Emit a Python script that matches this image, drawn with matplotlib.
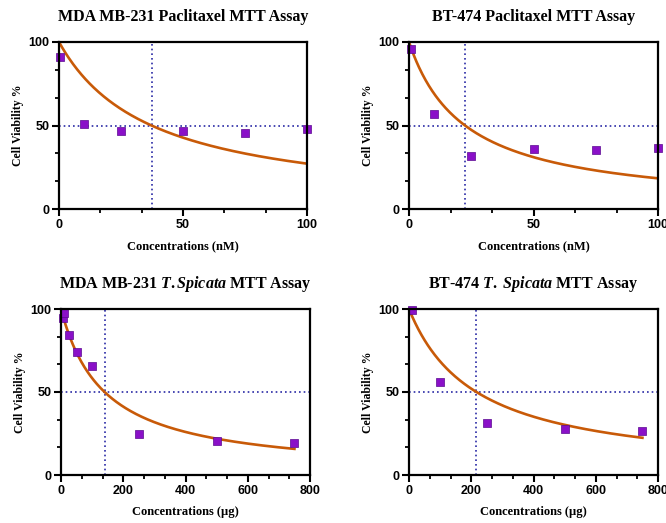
import numpy as np
import matplotlib
matplotlib.use("Agg")
import matplotlib.pyplot as plt
from matplotlib.ticker import MultipleLocator, AutoMinorLocator

plt.rcParams["mathtext.fontset"] = "custom"
plt.rcParams["mathtext.it"] = "Liberation Serif:italic:bold"
plt.rcParams["mathtext.rm"] = "Liberation Serif:bold"
plt.rcParams["mathtext.bf"] = "Liberation Serif:bold"

# ---- data ----
titles = [
    r"MDA MB-231 Paclitaxel MTT Assay",
    r"BT-474 Paclitaxel MTT Assay",
    r"MDA MB-231 $\mathit{T.Spicata}$ MTT Assay",
    r"BT-474 $\mathit{T.}$ $\mathit{Spicata}$ MTT Assay",
]
xlabels = ["Concentrations (nM)", "Concentrations (nM)",
           "Concentrations (µg)", "Concentrations (µg)"]

mda_pac_x = [0.5, 10, 25, 50, 75, 100]
mda_pac_y = [90.8, 50.9, 46.7, 46.5, 45.7, 47.7]
bt_pac_x = [1, 10, 25, 50, 75, 100]
bt_pac_y = [95.6, 56.9, 31.5, 35.9, 35.3, 36.5]
mda_ts_x = [5, 10, 25, 50, 100, 250, 500, 750]
mda_ts_y = [94.4, 97.8, 84.4, 73.9, 65.5, 24.4, 20.4, 19.0]
bt_ts_x = [10, 100, 250, 500, 750]
bt_ts_y = [99.6, 56.3, 31.1, 27.7, 26.5]

# fitted IC50 values (dotted crosshair positions)
ic50 = [37.3, 22.5, 140, 216.6]
xmax = [100, 100, 800, 800]
xmajor = [50, 50, 200, 200]

xs = [mda_pac_x, bt_pac_x, mda_ts_x, bt_ts_x]
ys = [mda_pac_y, bt_pac_y, mda_ts_y, bt_ts_y]

# axes positions in pixels (left, right, top, bottom)
W, H = 666, 523
boxes = [(59, 307, 42, 209), (409, 658, 42, 209),
         (61, 310, 309, 475), (409, 658, 309, 475)]

fig = plt.figure(figsize=(W / 100, H / 100), dpi=100)
fig.patch.set_facecolor("white")

serif = "Liberation Serif"
sans = "Liberation Sans"
curve_color = "#c85a08"
dot_color = "#2a2aa6"
mark_color = "#8a10c8"

for i in range(4):
    l, r, t, b = boxes[i]
    ax = fig.add_axes([l / W, 1 - b / H, (r - l) / W, (b - t) / H])
    ax.set_xlim(0, xmax[i])
    ax.set_ylim(0, 100)

    # fitted dose-response curve (hyperbolic fit with read IC50)
    xc = np.linspace(0, max(xs[i]), 300)
    yc = 100 / (1 + xc / ic50[i])
    ax.plot(xc, yc, color=curve_color, lw=1.9, zorder=3)

    # IC50 crosshair
    ax.axhline(50, color=dot_color, lw=1.2, ls=(0, (1, 1.8)), zorder=2)
    ax.axvline(ic50[i], color=dot_color, lw=1.2, ls=(0, (1, 1.8)), zorder=2)

    ax.scatter(xs[i], ys[i], marker="s", s=30, color=mark_color,
               edgecolors="#5a0a90", linewidths=0.5, zorder=4, clip_on=False)

    for s in ax.spines.values():
        s.set_linewidth(1.6)
        s.set_zorder(5)

    ax.xaxis.set_major_locator(MultipleLocator(xmajor[i]))
    ax.xaxis.set_minor_locator(AutoMinorLocator(3))
    ax.yaxis.set_major_locator(MultipleLocator(50))
    ax.yaxis.set_minor_locator(AutoMinorLocator(3))
    ax.tick_params(which="major", length=5, width=1.5, direction="out",
                   labelsize=9, pad=2)
    ax.tick_params(which="minor", length=3, width=1.3, direction="out")
    for lab in ax.get_xticklabels() + ax.get_yticklabels():
        lab.set_fontfamily(sans)
        lab.set_fontweight("bold")

    ax.set_title(titles[i], fontfamily=serif, fontweight="bold",
                 fontsize=11.5, pad=15)
    ax.set_xlabel(xlabels[i], fontfamily=serif, fontweight="bold",
                  fontsize=9, labelpad=7)
    ax.set_ylabel("Cell Viability %", fontfamily=serif, fontweight="bold",
                  fontsize=8.5, labelpad=3)

fig.savefig("out.png", dpi=100)
